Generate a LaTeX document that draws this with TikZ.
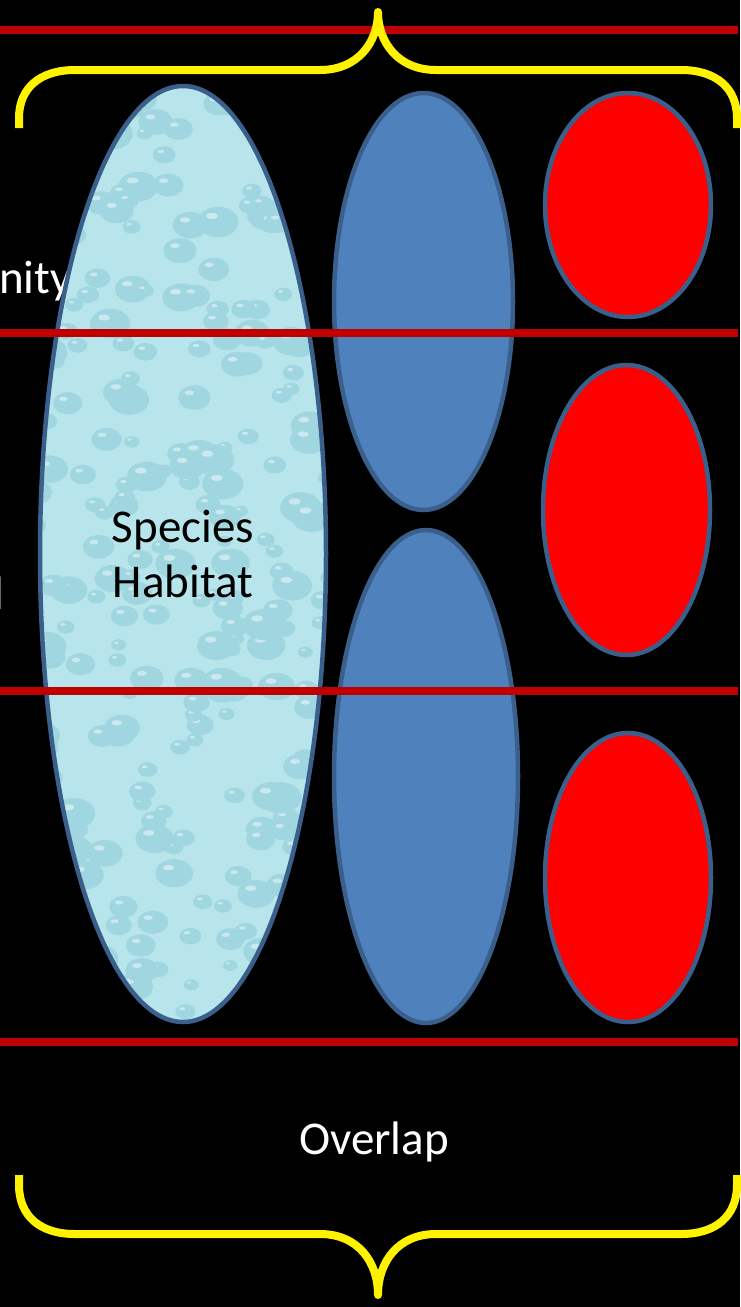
\documentclass[tikz,border=0pt]{standalone}
\usepackage{fontspec}
\setmainfont{Carlito}
\usetikzlibrary{shapes.geometric}
\definecolor{splitred}{HTML}{C00000}
\definecolor{rimblue}{HTML}{3A5F8B}
\definecolor{nicheblue}{HTML}{4F81BD}
\definecolor{habfill}{HTML}{B8E5EC}
\definecolor{dropfill}{HTML}{9FD6DF}
\tikzset{
  niche/.style={
    shape = ellipse,
    draw = rimblue,
    line width = 4.5pt,
    inner sep = 0pt,
    fill = nicheblue
  },
  patch/.style={
    niche,
    fill = red
  },
  habitat/.style={
    niche,
    fill = habfill,
    path picture={
      \foreach \k in {1,...,260}{
        \pgfmathsetmacro\px{rand*150}
        \pgfmathsetmacro\py{rand*480}
        \pgfmathsetmacro\pr{7+rnd*14}
        \fill[dropfill] ([shift={(\px,\py)}]path picture bounding box.center) ellipse ({\pr pt} and {0.75*\pr pt});
        \fill[white, opacity=.45] ([shift={(\px-0.3*\pr,\py-0.3*\pr)}]path picture bounding box.center) ellipse ({0.3*\pr pt} and {0.15*\pr pt});
      }
    }
  },
  split/.style={
    draw = splitred,
    line width = 8pt
  },
  brace/.style={
    draw = yellow,
    line width = 8pt,
    line join = round
  },
  word/.style={
    text = white,
    inner sep = 0pt,
    font = \fontsize{47}{55}\selectfont
  }
}
\pgfmathsetseed{11}
\begin{document}
\begin{tikzpicture}[x=1pt, y=-1pt]
    \fill[black] (0,0) rectangle (740,1307);
    \useasboundingbox (0,0) rectangle (740,1307);
    % cut-off labels on the left
    \node[word, anchor=base west] (lvlone) at (-1,293) {nity};
    \node[word, anchor=base east] (lvltwo) at (4,609) {l};
    % ellipses
    \node[habitat, minimum width=286pt, minimum height=936pt] (habitat) at (183,554) {};
    \node[niche, minimum width=179pt, minimum height=417pt] (nicheA) at (423.5,301.5) {};
    \node[niche, minimum width=184pt, minimum height=493pt] (nicheB) at (426,776.5) {};
    \node[patch, minimum width=166pt, minimum height=224pt] (patchA) at (628,205) {};
    \node[patch, minimum width=167pt, minimum height=290pt] (patchB) at (626.5,510) {};
    \node[patch, minimum width=166pt, minimum height=289pt] (patchC) at (628,877.5) {};
    \node[word, text=black, align=center] (hablabel) at (habitat.center) {Species\\Habitat};
    % red dividers
    \foreach \y/\n in {30/a, 333/b, 691/c, 1042/d}{
      \coordinate (\n w) at (0,\y);
      \coordinate (\n e) at (738,\y);
      \draw[split] (\n w) -- (\n e);
    }
    % braces
    \draw[brace] (19,128) -- (19,118) .. controls (19,88) and (40,70) .. (75,70) -- (320,70)
      .. controls (358,70) and (378,42) .. (378,12)
      .. controls (378,42) and (398,70) .. (436,70) -- (681,70)
      .. controls (716,70) and (737,88) .. (737,118) -- (737,128);
    \draw[brace] (19,1175) -- (19,1185) .. controls (19,1216) and (40,1234) .. (75,1234) -- (320,1234)
      .. controls (358,1234) and (378,1262) .. (378,1295)
      .. controls (378,1262) and (398,1234) .. (436,1234) -- (681,1234)
      .. controls (716,1234) and (737,1216) .. (737,1185) -- (737,1175);
    \node[word, anchor=base] (overlap) at (374,1154) {Overlap};
\end{tikzpicture}
\end{document}
